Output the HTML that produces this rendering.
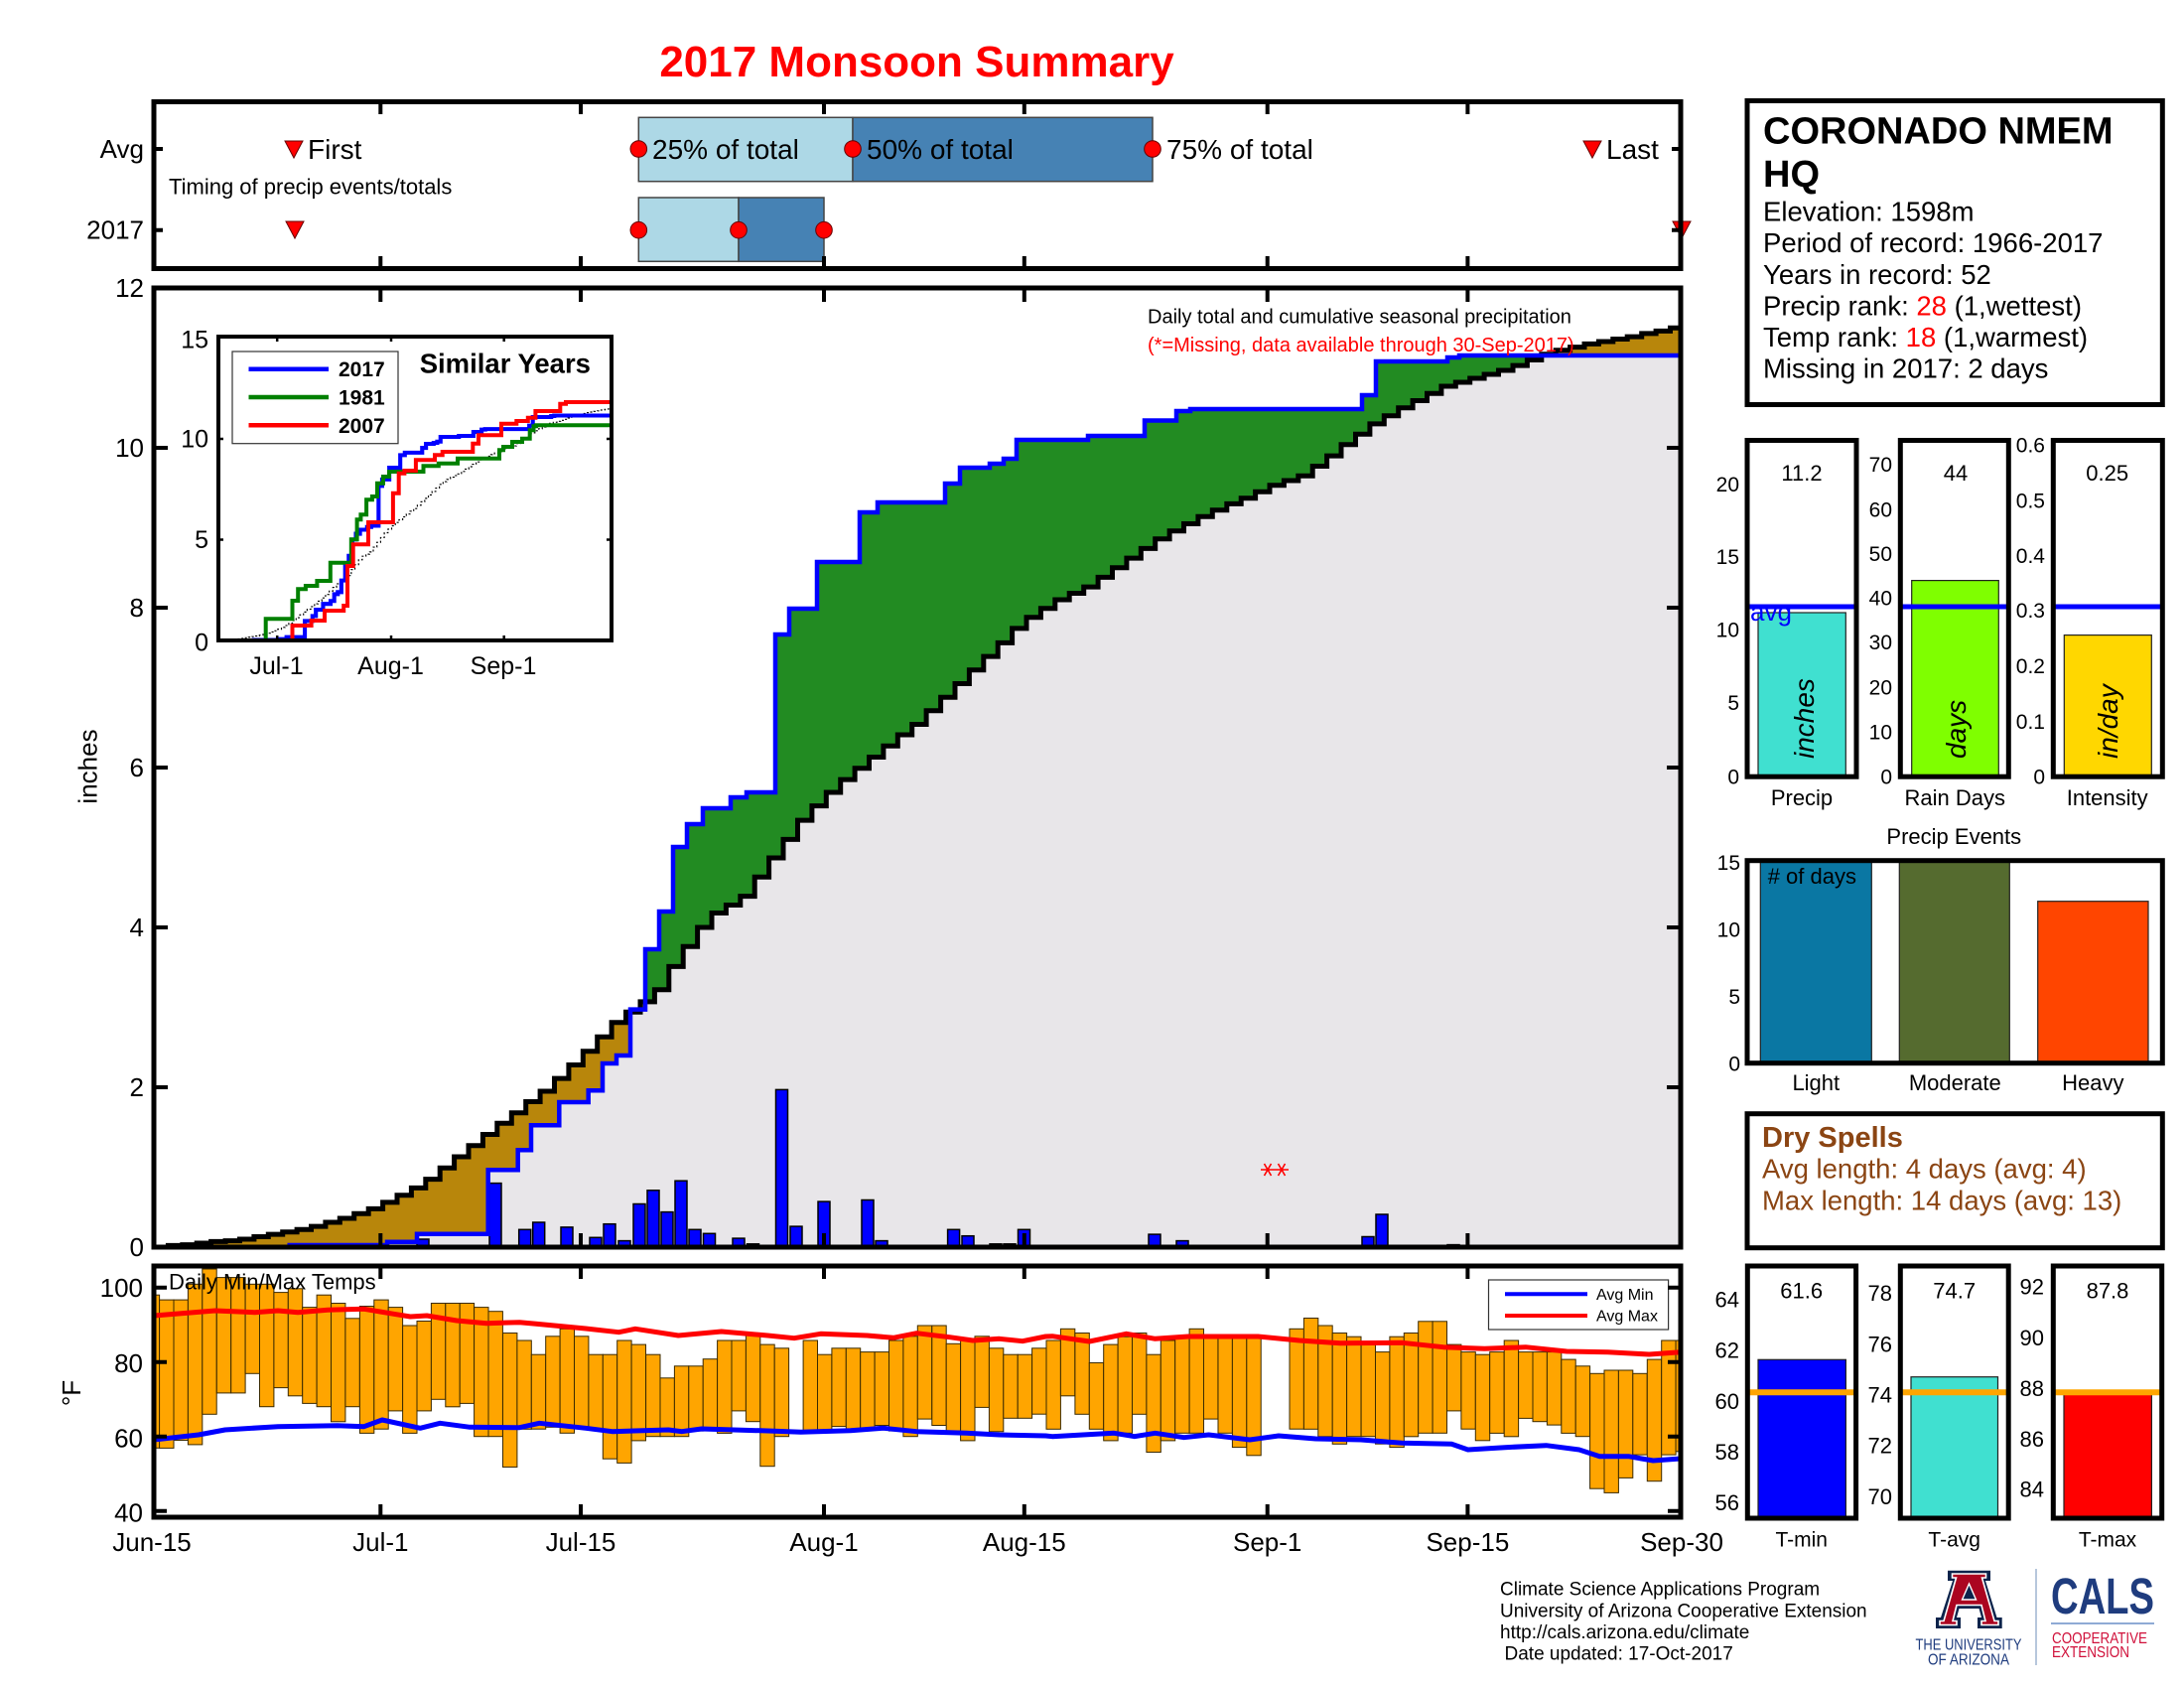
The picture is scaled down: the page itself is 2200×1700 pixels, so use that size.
<!DOCTYPE html>
<html><head><meta charset="utf-8"><title>2017 Monsoon Summary</title>
<style>
html,body{margin:0;padding:0;background:#fff;}
svg{display:block;font-family:"Liberation Sans",Arial,Helvetica,sans-serif;}
</style></head>
<body>
<svg width="2200" height="1700" viewBox="0 0 2200 1700" xmlns="http://www.w3.org/2000/svg">
<defs>
<clipPath id="mainClip"><rect x="155" y="290" width="1538" height="966"/></clipPath>
<clipPath id="blueClip"><path d="M155,1256 H291.7 V1254 H390 V1250.7 H420 V1242.7 H491.7 V1178.3 H521.7 V1158.3 H535 V1133.3 H563.3 V1110 H592.7 V1098.3 H607 V1071 H621 V1063 H635 V1016.6 H650 V956 H664 V918 H678 V853 H692 V830 H708 V814 H736 V803 H752 V798 H781 V639 H795 V613 H823 V566 H866 V516 H884 V506 H952 V487 H967 V471 H997 V467 H1011 V462 H1024 V443 H1096 V439 H1153 V423.5 H1185 V414 H1199 V412 H1372 V398 H1386 V364 H1458 V360 H1470 V358 H1693 V1256 Z"/></clipPath>
<clipPath id="tempClip"><rect x="155" y="1275" width="1538" height="253"/></clipPath>
<clipPath id="insetClip"><rect x="220" y="339" width="396" height="306"/></clipPath>
</defs>

<!-- Title -->
<text x="923.5" y="77" font-size="44" font-weight="bold" fill="#ff0000" text-anchor="middle">2017 Monsoon Summary</text>

<!-- ===== Timing panel ===== -->
<rect x="643.3" y="118.3" width="215.7" height="64.4" fill="#add8e6" stroke="#444" stroke-width="1.5"/>
<rect x="859" y="118.3" width="302" height="64.4" fill="#4682b4" stroke="#444" stroke-width="1.5"/>
<rect x="643.3" y="199" width="100.7" height="64.3" fill="#add8e6" stroke="#444" stroke-width="1.5"/>
<rect x="744" y="199" width="86" height="64.3" fill="#4682b4" stroke="#444" stroke-width="1.5"/>
<g fill="#ff0000" stroke="#600" stroke-width="1">
<circle cx="643.3" cy="150" r="8.3"/><circle cx="859" cy="150" r="8.3"/><circle cx="1161" cy="150" r="8.3"/>
<circle cx="643.3" cy="231.7" r="8.3"/><circle cx="744" cy="231.7" r="8.3"/><circle cx="830" cy="231.7" r="8.3"/>
<polygon points="287,142 305,142 296,159"/>
<polygon points="1595,142 1613,142 1604,159"/>
<polygon points="288,223 306,223 297,240"/>
<polygon points="1685,223 1703,223 1694,240"/>
</g>
<g font-size="28" fill="#000">
<text x="310" y="160">First</text>
<text x="657" y="160">25% of total</text>
<text x="873" y="160">50% of total</text>
<text x="1175" y="160">75% of total</text>
<text x="1618" y="160">Last</text>
</g>
<text x="170" y="195.7" font-size="22">Timing of precip events/totals</text>
<text x="145" y="159" font-size="26" text-anchor="end">Avg</text>
<text x="145" y="240.5" font-size="26" text-anchor="end">2017</text>
<rect x="155" y="102.5" width="1538" height="168" fill="none" stroke="#000" stroke-width="5"/>
<g stroke="#000" stroke-width="4">
<path d="M383.3,102 v13 M585,102 v13 M830,102 v13 M1031.8,102 v13 M1276.7,102 v13 M1478.4,102 v13"/>
<path d="M383.3,271 v-13 M585,271 v-13 M830,271 v-13 M1031.8,271 v-13 M1276.7,271 v-13 M1478.4,271 v-13"/>
<path d="M155,150 h9 M155,231.7 h9 M1693,150 h-9 M1693,231.7 h-9"/>
</g>

<!-- ===== Main precipitation plot ===== -->
<g clip-path="url(#mainClip)">
<!-- brown: under avg curve -->
<path fill="#b8860b" d="M155,1256 H169.4 V1254.4 H183.8 V1253.6 H198.2 V1252 H212.6 V1250.4 H227.1 V1249.6 H241.5 V1248 H255.9 V1245.5 H270.3 V1243.1 H284.7 V1240.7 H299.1 V1238.3 H313.5 V1235.1 H327.9 V1231 H342.3 V1227 H356.7 V1222.2 H371.2 V1217.4 H385.6 V1210.9 H400 V1203.7 H414.4 V1196.4 H428.8 V1187.6 H443.2 V1176.3 H457.6 V1165 H472 V1153.8 H486.4 V1142.5 H500.8 V1131.2 H515.3 V1120.8 H529.7 V1109.5 H544.1 V1099 H558.5 V1086.1 H572.9 V1072.5 H587.3 V1058.8 H601.7 V1044.3 H616.1 V1029.8 H630.5 V1019.3 H645 V1008.9 H659.4 V996.8 H673.8 V973.4 H688.2 V953.3 H702.6 V934 H717 V919.5 H731.4 V911.5 H745.8 V902.6 H760.2 V883.3 H774.6 V864 H789 V845.4 H803.5 V826.1 H817.9 V811.6 H832.3 V798 H846.7 V785.1 H861.1 V773.8 H875.5 V762.5 H889.9 V751.3 H904.3 V740 H918.7 V729.5 H933.1 V715.8 H947.6 V702.2 H962 V688.5 H976.4 V674.8 H990.8 V661.1 H1005.2 V647.4 H1019.6 V632.9 H1034 V621.7 H1048.4 V612.8 H1062.8 V604 H1077.2 V597.5 H1091.7 V591.1 H1106.1 V581.4 H1120.5 V571.8 H1134.9 V562.1 H1149.3 V552.4 H1163.7 V542.8 H1178.1 V534.7 H1192.5 V527.5 H1206.9 V520.2 H1221.3 V513.8 H1235.8 V507.4 H1250.2 V501.7 H1264.6 V495.3 H1279 V488.8 H1293.4 V484 H1307.8 V479.2 H1322.2 V469.5 H1336.6 V459.1 H1351 V447.8 H1365.5 V437.3 H1379.9 V426.9 H1394.3 V418.8 H1408.7 V410.8 H1423.1 V403.5 H1437.5 V396.3 H1451.9 V389 H1466.3 V385 H1480.7 V381 H1495.1 V377 H1509.5 V373 H1524 V368.1 H1538.4 V362.5 H1552.8 V356.8 H1567.2 V352.8 H1581.6 V349.6 H1596 V346.4 H1610.4 V344 H1624.8 V341.5 H1639.2 V339.1 H1653.7 V335.9 H1668.1 V333.4 H1682.5 V330.2 H1693 V1256 Z"/>
<!-- green: under 2017 curve -->
<path fill="#228b22" d="M155,1256 H291.7 V1254 H390 V1250.7 H420 V1242.7 H491.7 V1178.3 H521.7 V1158.3 H535 V1133.3 H563.3 V1110 H592.7 V1098.3 H607 V1071 H621 V1063 H635 V1016.6 H650 V956 H664 V918 H678 V853 H692 V830 H708 V814 H736 V803 H752 V798 H781 V639 H795 V613 H823 V566 H866 V516 H884 V506 H952 V487 H967 V471 H997 V467 H1011 V462 H1024 V443 H1096 V439 H1153 V423.5 H1185 V414 H1199 V412 H1372 V398 H1386 V364 H1458 V360 H1470 V358 H1693 V1256 Z"/>
<!-- gray: under both -->
<g clip-path="url(#blueClip)">
<path fill="#e8e6e9" d="M155,1256 H169.4 V1254.4 H183.8 V1253.6 H198.2 V1252 H212.6 V1250.4 H227.1 V1249.6 H241.5 V1248 H255.9 V1245.5 H270.3 V1243.1 H284.7 V1240.7 H299.1 V1238.3 H313.5 V1235.1 H327.9 V1231 H342.3 V1227 H356.7 V1222.2 H371.2 V1217.4 H385.6 V1210.9 H400 V1203.7 H414.4 V1196.4 H428.8 V1187.6 H443.2 V1176.3 H457.6 V1165 H472 V1153.8 H486.4 V1142.5 H500.8 V1131.2 H515.3 V1120.8 H529.7 V1109.5 H544.1 V1099 H558.5 V1086.1 H572.9 V1072.5 H587.3 V1058.8 H601.7 V1044.3 H616.1 V1029.8 H630.5 V1019.3 H645 V1008.9 H659.4 V996.8 H673.8 V973.4 H688.2 V953.3 H702.6 V934 H717 V919.5 H731.4 V911.5 H745.8 V902.6 H760.2 V883.3 H774.6 V864 H789 V845.4 H803.5 V826.1 H817.9 V811.6 H832.3 V798 H846.7 V785.1 H861.1 V773.8 H875.5 V762.5 H889.9 V751.3 H904.3 V740 H918.7 V729.5 H933.1 V715.8 H947.6 V702.2 H962 V688.5 H976.4 V674.8 H990.8 V661.1 H1005.2 V647.4 H1019.6 V632.9 H1034 V621.7 H1048.4 V612.8 H1062.8 V604 H1077.2 V597.5 H1091.7 V591.1 H1106.1 V581.4 H1120.5 V571.8 H1134.9 V562.1 H1149.3 V552.4 H1163.7 V542.8 H1178.1 V534.7 H1192.5 V527.5 H1206.9 V520.2 H1221.3 V513.8 H1235.8 V507.4 H1250.2 V501.7 H1264.6 V495.3 H1279 V488.8 H1293.4 V484 H1307.8 V479.2 H1322.2 V469.5 H1336.6 V459.1 H1351 V447.8 H1365.5 V437.3 H1379.9 V426.9 H1394.3 V418.8 H1408.7 V410.8 H1423.1 V403.5 H1437.5 V396.3 H1451.9 V389 H1466.3 V385 H1480.7 V381 H1495.1 V377 H1509.5 V373 H1524 V368.1 H1538.4 V362.5 H1552.8 V356.8 H1567.2 V352.8 H1581.6 V349.6 H1596 V346.4 H1610.4 V344 H1624.8 V341.5 H1639.2 V339.1 H1653.7 V335.9 H1668.1 V333.4 H1682.5 V330.2 H1693 V1256 Z"/>
</g>
<!-- daily bars -->
<g fill="#0000ff" stroke="#000" stroke-width="1.5">
<rect x="420" y="1248" width="12" height="8"/>
<rect x="493" y="1191.6" width="12" height="64.4"/>
<rect x="522.7" y="1238.3" width="12" height="17.7"/>
<rect x="536.7" y="1231" width="12" height="25"/>
<rect x="565" y="1235.9" width="12" height="20.1"/>
<rect x="594" y="1246.3" width="12" height="9.7"/>
<rect x="608" y="1232.7" width="12" height="23.3"/>
<rect x="623" y="1249.6" width="12" height="6.4"/>
<rect x="638" y="1212.5" width="12" height="43.5"/>
<rect x="652" y="1198.8" width="12" height="57.2"/>
<rect x="666" y="1220.6" width="12" height="35.4"/>
<rect x="680" y="1189.2" width="12" height="66.8"/>
<rect x="694" y="1238.3" width="12" height="17.7"/>
<rect x="708.5" y="1242.3" width="12" height="13.7"/>
<rect x="738" y="1247.1" width="12" height="8.9"/>
<rect x="752.5" y="1252.8" width="12" height="3.2"/>
<rect x="781.5" y="1097.4" width="12" height="158.6"/>
<rect x="796" y="1235.1" width="12" height="20.9"/>
<rect x="824" y="1210.1" width="12" height="45.9"/>
<rect x="868" y="1208.5" width="12" height="47.5"/>
<rect x="882" y="1249.6" width="12" height="6.4"/>
<rect x="954.6" y="1238.3" width="12" height="17.7"/>
<rect x="969" y="1244.7" width="12" height="11.3"/>
<rect x="997" y="1252.8" width="12" height="3.2"/>
<rect x="1011" y="1252.8" width="12" height="3.2"/>
<rect x="1025.5" y="1238.3" width="12" height="17.7"/>
<rect x="1157" y="1243.1" width="12" height="12.9"/>
<rect x="1185" y="1249.6" width="12" height="6.4"/>
<rect x="1199" y="1254.4" width="12" height="1.6"/>
<rect x="1372" y="1245.5" width="12" height="10.5"/>
<rect x="1386" y="1223" width="12" height="33"/>
<rect x="1458" y="1253.6" width="12" height="2.4"/>
</g>
<!-- avg curve -->
<path fill="none" stroke="#000" stroke-width="5" d="M155,1256 H169.4 V1254.4 H183.8 V1253.6 H198.2 V1252 H212.6 V1250.4 H227.1 V1249.6 H241.5 V1248 H255.9 V1245.5 H270.3 V1243.1 H284.7 V1240.7 H299.1 V1238.3 H313.5 V1235.1 H327.9 V1231 H342.3 V1227 H356.7 V1222.2 H371.2 V1217.4 H385.6 V1210.9 H400 V1203.7 H414.4 V1196.4 H428.8 V1187.6 H443.2 V1176.3 H457.6 V1165 H472 V1153.8 H486.4 V1142.5 H500.8 V1131.2 H515.3 V1120.8 H529.7 V1109.5 H544.1 V1099 H558.5 V1086.1 H572.9 V1072.5 H587.3 V1058.8 H601.7 V1044.3 H616.1 V1029.8 H630.5 V1019.3 H645 V1008.9 H659.4 V996.8 H673.8 V973.4 H688.2 V953.3 H702.6 V934 H717 V919.5 H731.4 V911.5 H745.8 V902.6 H760.2 V883.3 H774.6 V864 H789 V845.4 H803.5 V826.1 H817.9 V811.6 H832.3 V798 H846.7 V785.1 H861.1 V773.8 H875.5 V762.5 H889.9 V751.3 H904.3 V740 H918.7 V729.5 H933.1 V715.8 H947.6 V702.2 H962 V688.5 H976.4 V674.8 H990.8 V661.1 H1005.2 V647.4 H1019.6 V632.9 H1034 V621.7 H1048.4 V612.8 H1062.8 V604 H1077.2 V597.5 H1091.7 V591.1 H1106.1 V581.4 H1120.5 V571.8 H1134.9 V562.1 H1149.3 V552.4 H1163.7 V542.8 H1178.1 V534.7 H1192.5 V527.5 H1206.9 V520.2 H1221.3 V513.8 H1235.8 V507.4 H1250.2 V501.7 H1264.6 V495.3 H1279 V488.8 H1293.4 V484 H1307.8 V479.2 H1322.2 V469.5 H1336.6 V459.1 H1351 V447.8 H1365.5 V437.3 H1379.9 V426.9 H1394.3 V418.8 H1408.7 V410.8 H1423.1 V403.5 H1437.5 V396.3 H1451.9 V389 H1466.3 V385 H1480.7 V381 H1495.1 V377 H1509.5 V373 H1524 V368.1 H1538.4 V362.5 H1552.8 V356.8 H1567.2 V352.8 H1581.6 V349.6 H1596 V346.4 H1610.4 V344 H1624.8 V341.5 H1639.2 V339.1 H1653.7 V335.9 H1668.1 V333.4 H1682.5 V330.2 H1693"/>
<!-- 2017 curve -->
<path fill="none" stroke="#0000ff" stroke-width="4.5" d="M155,1256 H291.7 V1254 H390 V1250.7 H420 V1242.7 H491.7 V1178.3 H521.7 V1158.3 H535 V1133.3 H563.3 V1110 H592.7 V1098.3 H607 V1071 H621 V1063 H635 V1016.6 H650 V956 H664 V918 H678 V853 H692 V830 H708 V814 H736 V803 H752 V798 H781 V639 H795 V613 H823 V566 H866 V516 H884 V506 H952 V487 H967 V471 H997 V467 H1011 V462 H1024 V443 H1096 V439 H1153 V423.5 H1185 V414 H1199 V412 H1372 V398 H1386 V364 H1458 V360 H1470 V358 H1693"/>
</g>
<!-- missing asterisks -->
<g stroke="#ff0000" stroke-width="1.6">
<path d="M1270,1178 h14 M1273.5,1172 l7,12 M1280.5,1172 l-7,12"/>
<path d="M1284,1178 h14 M1287.5,1172 l7,12 M1294.5,1172 l-7,12"/>
</g>
<text x="1156" y="325.3" font-size="20">Daily total and cumulative seasonal precipitation</text>
<text x="1156" y="354" font-size="20" fill="#ff0000">(*=Missing, data available through 30-Sep-2017)</text>

<rect x="155" y="290" width="1538" height="966" fill="none" stroke="#000" stroke-width="5"/>
<g stroke="#000" stroke-width="4">
<path d="M383.3,290 v14 M585,290 v14 M830,290 v14 M1031.8,290 v14 M1276.7,290 v14 M1478.4,290 v14"/>
<path d="M383.3,1256 v-14 M585,1256 v-14 M830,1256 v-14 M1031.8,1256 v-14 M1276.7,1256 v-14 M1478.4,1256 v-14"/>
<path d="M155,451 h14 M155,612 h14 M155,773 h14 M155,934 h14 M155,1095 h14"/>
<path d="M1693,451 h-14 M1693,612 h-14 M1693,773 h-14 M1693,934 h-14 M1693,1095 h-14"/>
</g>
<g font-size="26" text-anchor="end">
<text x="145" y="299">12</text>
<text x="145" y="460">10</text>
<text x="145" y="621">8</text>
<text x="145" y="782">6</text>
<text x="145" y="943">4</text>
<text x="145" y="1104">2</text>
<text x="145" y="1265">0</text>
</g>
<text transform="translate(97.5,772) rotate(-90)" font-size="26" text-anchor="middle">inches</text>

<!-- ===== Inset: Similar Years ===== -->
<rect x="220" y="339" width="396" height="306" fill="#fff"/>
<g clip-path="url(#insetClip)">
<g transform="translate(180.79,328.24) scale(0.2568,0.2522)" fill="none">
<path stroke="#000" stroke-width="4.5" stroke-dasharray="8 8" d="M155,1256 H169.4 V1254.4 H183.8 V1253.6 H198.2 V1252 H212.6 V1250.4 H227.1 V1249.6 H241.5 V1248 H255.9 V1245.5 H270.3 V1243.1 H284.7 V1240.7 H299.1 V1238.3 H313.5 V1235.1 H327.9 V1231 H342.3 V1227 H356.7 V1222.2 H371.2 V1217.4 H385.6 V1210.9 H400 V1203.7 H414.4 V1196.4 H428.8 V1187.6 H443.2 V1176.3 H457.6 V1165 H472 V1153.8 H486.4 V1142.5 H500.8 V1131.2 H515.3 V1120.8 H529.7 V1109.5 H544.1 V1099 H558.5 V1086.1 H572.9 V1072.5 H587.3 V1058.8 H601.7 V1044.3 H616.1 V1029.8 H630.5 V1019.3 H645 V1008.9 H659.4 V996.8 H673.8 V973.4 H688.2 V953.3 H702.6 V934 H717 V919.5 H731.4 V911.5 H745.8 V902.6 H760.2 V883.3 H774.6 V864 H789 V845.4 H803.5 V826.1 H817.9 V811.6 H832.3 V798 H846.7 V785.1 H861.1 V773.8 H875.5 V762.5 H889.9 V751.3 H904.3 V740 H918.7 V729.5 H933.1 V715.8 H947.6 V702.2 H962 V688.5 H976.4 V674.8 H990.8 V661.1 H1005.2 V647.4 H1019.6 V632.9 H1034 V621.7 H1048.4 V612.8 H1062.8 V604 H1077.2 V597.5 H1091.7 V591.1 H1106.1 V581.4 H1120.5 V571.8 H1134.9 V562.1 H1149.3 V552.4 H1163.7 V542.8 H1178.1 V534.7 H1192.5 V527.5 H1206.9 V520.2 H1221.3 V513.8 H1235.8 V507.4 H1250.2 V501.7 H1264.6 V495.3 H1279 V488.8 H1293.4 V484 H1307.8 V479.2 H1322.2 V469.5 H1336.6 V459.1 H1351 V447.8 H1365.5 V437.3 H1379.9 V426.9 H1394.3 V418.8 H1408.7 V410.8 H1423.1 V403.5 H1437.5 V396.3 H1451.9 V389 H1466.3 V385 H1480.7 V381 H1495.1 V377 H1509.5 V373 H1524 V368.1 H1538.4 V362.5 H1552.8 V356.8 H1567.2 V352.8 H1581.6 V349.6 H1596 V346.4 H1610.4 V344 H1624.8 V341.5 H1639.2 V339.1 H1653.7 V335.9 H1668.1 V333.4 H1682.5 V330.2 H1693"/>
<path stroke="#0000ff" stroke-width="16" d="M155,1256 H291.7 V1254 H390 V1250.7 H420 V1242.7 H491.7 V1178.3 H521.7 V1158.3 H535 V1133.3 H563.3 V1110 H592.7 V1098.3 H607 V1071 H621 V1063 H635 V1016.6 H650 V956 H664 V918 H678 V853 H692 V830 H708 V814 H736 V803 H752 V798 H781 V639 H795 V613 H823 V566 H866 V516 H884 V506 H952 V487 H967 V471 H997 V467 H1011 V462 H1024 V443 H1096 V439 H1153 V423.5 H1185 V414 H1199 V412 H1372 V398 H1386 V364 H1458 V360 H1470 V358 H1693"/>
</g>
<path fill="none" stroke="#008000" stroke-width="4" d="M220,645 H267.7 V623.3 H294.5 V605 H300.2 V593.3 H307.9 V590 H319.4 V585 H332.8 V566.7 H353.8 V543.3 H359.6 V523.3 H363.4 V518.3 H369.1 V503.3 H374.9 V500 H380 V486.7 H386 V480 H392 V475 H426.5 V469.3 H441.8 V466.7 H461 V461.7 H503 V453.3 H507 V450 H516 V445 H526 V441.7 H533.7 V433.3 H537.5 V429.3 H540 V428.3 H616"/>
<path fill="none" stroke="#ff0000" stroke-width="4" d="M220,645 H294.5 V630 H313.6 V625 H327 V615 H346.2 V610 H350 V570 H355.7 V548.3 H371 V526 H395.9 V496.7 H401.7 V476.7 H407.4 V474 H418.9 V463.3 H438 V458.3 H445.7 V455 H476.3 V446.7 H482 V438.3 H505 V426.7 H520.3 V424 H531.8 V420.7 H539.4 V414 H564.3 V406.7 H570 V405 H616"/>
</g>
<rect x="234" y="354" width="167" height="92.7" fill="#fff" stroke="#333" stroke-width="1.2"/>
<path d="M250.5,371.7 H331" stroke="#0000ff" stroke-width="4.5"/>
<path d="M250.5,400 H331" stroke="#008000" stroke-width="4.5"/>
<path d="M250.5,428.3 H331" stroke="#ff0000" stroke-width="4.5"/>
<g font-size="21" font-weight="bold">
<text x="341" y="379.2">2017</text>
<text x="341" y="407.5">1981</text>
<text x="341" y="435.8">2007</text>
</g>
<text x="422.7" y="375.7" font-size="27.5" font-weight="bold">Similar Years</text>
<rect x="220" y="339" width="396" height="306" fill="none" stroke="#000" stroke-width="4"/>
<g stroke="#000" stroke-width="2.5">
<path d="M279.2,645 v-5 M394,645 v-5 M507.7,645 v-5 M279.2,339 v5 M394,339 v5 M507.7,339 v5"/>
<path d="M220,543.5 h5 M220,442 h5 M616,543.5 h-5 M616,442 h-5"/>
</g>
<g font-size="25" text-anchor="end">
<text x="210" y="655.5">0</text>
<text x="210" y="552">5</text>
<text x="210" y="450.5">10</text>
<text x="210" y="350.5">15</text>
</g>
<g font-size="25" text-anchor="middle">
<text x="278.5" y="679">Jul-1</text>
<text x="393.5" y="679">Aug-1</text>
<text x="507" y="679">Sep-1</text>
</g>

<!-- ===== Temperature panel ===== -->
<g clip-path="url(#tempClip)">
<g fill="#ffa500" stroke="#3a2a00" stroke-width="1">
<rect x="146.2" y="1304.2" width="14.41" height="154.1"/>
<rect x="160.6" y="1309.1" width="14.41" height="149.3"/>
<rect x="175.0" y="1309.1" width="14.41" height="141.4"/>
<rect x="189.4" y="1293.3" width="14.41" height="161.6"/>
<rect x="203.8" y="1278" width="14.41" height="146.3"/>
<rect x="218.3" y="1286.6" width="14.41" height="116.3"/>
<rect x="232.7" y="1286.6" width="14.41" height="116.3"/>
<rect x="247.1" y="1293.3" width="14.41" height="90"/>
<rect x="261.5" y="1293.3" width="14.41" height="123.4"/>
<rect x="275.9" y="1301.6" width="14.41" height="96"/>
<rect x="290.3" y="1297.8" width="14.41" height="108"/>
<rect x="304.7" y="1316.6" width="14.41" height="96.8"/>
<rect x="319.1" y="1304.2" width="14.41" height="112.5"/>
<rect x="333.5" y="1312.5" width="14.41" height="119.3"/>
<rect x="347.9" y="1327.8" width="14.41" height="88.9"/>
<rect x="362.4" y="1315.5" width="14.41" height="127.9"/>
<rect x="376.8" y="1309.1" width="14.41" height="130.1"/>
<rect x="391.2" y="1316.6" width="14.41" height="104.3"/>
<rect x="405.6" y="1335" width="14.41" height="108.4"/>
<rect x="420.0" y="1330.5" width="14.41" height="90.4"/>
<rect x="434.4" y="1312.5" width="14.41" height="96.8"/>
<rect x="448.8" y="1312.5" width="14.41" height="104.3"/>
<rect x="463.2" y="1312.5" width="14.41" height="100.9"/>
<rect x="477.6" y="1316.6" width="14.41" height="130.1"/>
<rect x="492.0" y="1320.7" width="14.41" height="126"/>
<rect x="506.5" y="1342.5" width="14.41" height="135"/>
<rect x="520.9" y="1350" width="14.41" height="89.3"/>
<rect x="535.3" y="1364.2" width="14.41" height="75"/>
<rect x="549.7" y="1345.8" width="14.41" height="91.5"/>
<rect x="564.1" y="1338.3" width="14.41" height="105"/>
<rect x="578.5" y="1345.8" width="14.41" height="91.5"/>
<rect x="592.9" y="1364.2" width="14.41" height="75"/>
<rect x="607.3" y="1364.2" width="14.41" height="105"/>
<rect x="621.7" y="1350" width="14.41" height="123.4"/>
<rect x="636.1" y="1354.1" width="14.41" height="96.8"/>
<rect x="650.6" y="1364.2" width="14.41" height="82.5"/>
<rect x="665.0" y="1387.8" width="14.41" height="58.9"/>
<rect x="679.4" y="1375.8" width="14.41" height="70.9"/>
<rect x="693.8" y="1375.8" width="14.41" height="65.3"/>
<rect x="708.2" y="1368.7" width="14.41" height="70.5"/>
<rect x="722.6" y="1350" width="14.41" height="93.4"/>
<rect x="737.0" y="1350" width="14.41" height="70.9"/>
<rect x="751.4" y="1342.8" width="14.41" height="88.9"/>
<rect x="765.8" y="1354.1" width="14.41" height="122.6"/>
<rect x="780.2" y="1357.8" width="14.41" height="88.9"/>
<rect x="809.1" y="1350" width="14.41" height="91.1"/>
<rect x="823.5" y="1364.2" width="14.41" height="76.9"/>
<rect x="837.9" y="1357.8" width="14.41" height="78.8"/>
<rect x="852.3" y="1357.8" width="14.41" height="81.4"/>
<rect x="866.7" y="1361.6" width="14.41" height="77.6"/>
<rect x="881.1" y="1361.6" width="14.41" height="73.9"/>
<rect x="895.5" y="1350" width="14.41" height="91.1"/>
<rect x="909.9" y="1345.8" width="14.41" height="100.9"/>
<rect x="924.3" y="1335" width="14.41" height="94.1"/>
<rect x="938.8" y="1335" width="14.41" height="100.5"/>
<rect x="953.2" y="1353.3" width="14.41" height="87.8"/>
<rect x="967.6" y="1350" width="14.41" height="100.9"/>
<rect x="982.0" y="1345.8" width="14.41" height="71.6"/>
<rect x="996.4" y="1357.8" width="14.41" height="84"/>
<rect x="1010.8" y="1364.2" width="14.41" height="64.1"/>
<rect x="1025.2" y="1364.2" width="14.41" height="64.1"/>
<rect x="1039.6" y="1357.8" width="14.41" height="66.4"/>
<rect x="1054.0" y="1350" width="14.41" height="89.3"/>
<rect x="1068.4" y="1338.3" width="14.41" height="67.5"/>
<rect x="1082.9" y="1342.5" width="14.41" height="81.8"/>
<rect x="1097.3" y="1372.5" width="14.41" height="66.8"/>
<rect x="1111.7" y="1354.1" width="14.41" height="96.8"/>
<rect x="1126.1" y="1346.2" width="14.41" height="97.1"/>
<rect x="1140.5" y="1342.5" width="14.41" height="81.8"/>
<rect x="1154.9" y="1364.2" width="14.41" height="98.3"/>
<rect x="1169.3" y="1350" width="14.41" height="100.9"/>
<rect x="1183.7" y="1346.2" width="14.41" height="97.1"/>
<rect x="1198.1" y="1338.3" width="14.41" height="105"/>
<rect x="1212.5" y="1346.2" width="14.41" height="82.9"/>
<rect x="1227.0" y="1346.2" width="14.41" height="97.1"/>
<rect x="1241.4" y="1346.2" width="14.41" height="111.4"/>
<rect x="1255.8" y="1346.2" width="14.41" height="119.6"/>
<rect x="1299.0" y="1338.3" width="14.41" height="100.9"/>
<rect x="1313.4" y="1327.5" width="14.41" height="111.8"/>
<rect x="1327.8" y="1335" width="14.41" height="111.8"/>
<rect x="1342.2" y="1342.5" width="14.41" height="111.8"/>
<rect x="1356.6" y="1346.2" width="14.41" height="100.5"/>
<rect x="1371.1" y="1354.1" width="14.41" height="92.6"/>
<rect x="1385.5" y="1361.6" width="14.41" height="92.6"/>
<rect x="1399.9" y="1346.2" width="14.41" height="111.4"/>
<rect x="1414.3" y="1342.5" width="14.41" height="104.3"/>
<rect x="1428.7" y="1330.8" width="14.41" height="112.5"/>
<rect x="1443.1" y="1330.8" width="14.41" height="112.5"/>
<rect x="1457.5" y="1354.1" width="14.41" height="66.8"/>
<rect x="1471.9" y="1361.6" width="14.41" height="77.6"/>
<rect x="1486.3" y="1364.2" width="14.41" height="86.6"/>
<rect x="1500.7" y="1361.6" width="14.41" height="81.8"/>
<rect x="1515.2" y="1350" width="14.41" height="96.8"/>
<rect x="1529.6" y="1361.6" width="14.41" height="66.8"/>
<rect x="1544.0" y="1361.6" width="14.41" height="70.1"/>
<rect x="1558.4" y="1361.6" width="14.41" height="73.5"/>
<rect x="1572.8" y="1369.1" width="14.41" height="74.3"/>
<rect x="1587.2" y="1375.8" width="14.41" height="70.9"/>
<rect x="1601.6" y="1383.3" width="14.41" height="115.9"/>
<rect x="1616.0" y="1380" width="14.41" height="123.4"/>
<rect x="1630.4" y="1380" width="14.41" height="108.4"/>
<rect x="1644.8" y="1383.3" width="14.41" height="81.8"/>
<rect x="1659.3" y="1369.1" width="14.41" height="122.6"/>
<rect x="1673.7" y="1350" width="14.41" height="115.1"/>
<rect x="1688.1" y="1350" width="14.41" height="111.8"/>
</g>
<polyline fill="none" stroke="#ff0000" stroke-width="5" stroke-linejoin="round" points="155,1325 216.7,1320 256.7,1321.7 280,1320 300,1321.7 330,1319.3 366.7,1318.3 396.7,1323.3 413.3,1326 430,1325 460,1330 490,1332.7 523.3,1331.7 540,1333.3 590,1338 623.3,1341.7 640,1338.3 683.3,1345 726.7,1341 773.3,1345 800,1347.7 826.7,1343.3 873.3,1345 900,1347.3 923.3,1342.7 956.7,1346.7 980,1350 1006.7,1348.3 1030,1350.7 1053.3,1346 1060,1345.7 1097.3,1351 1134.6,1343.3 1163.6,1348.3 1196.8,1346 1267.3,1346 1308.8,1350 1350.2,1352.7 1412.4,1352.3 1453.9,1356.7 1495.3,1358.3 1536.8,1356.7 1578.2,1361 1619.7,1361.7 1661.2,1364 1693,1361.7"/>
<polyline fill="none" stroke="#0000ff" stroke-width="5" stroke-linejoin="round" points="155,1450 200,1445 226.7,1440 280,1436.7 340,1435.7 366.7,1436.7 385,1430 423.3,1438.3 443.3,1433.3 473.3,1437.3 523.3,1437.7 543.3,1433.3 590,1438.3 616.7,1441.7 673.3,1440 686.7,1441.7 706.7,1439 773.3,1441 806.7,1442.3 856.7,1440.7 890,1438.3 923.3,1441.7 973.3,1443.3 1006.7,1445 1053.3,1446 1060,1446.7 1122.2,1443.3 1142.9,1446.7 1163.6,1443.3 1192.7,1447.7 1217.5,1445 1259,1450 1288,1446 1325.3,1449 1370.9,1450 1412.4,1453.3 1462.2,1454.3 1478.7,1460 1516,1457.7 1557.5,1455.7 1590.7,1460 1611.4,1466.7 1640.4,1466.7 1665.3,1471 1693,1469"/>
</g>
<text x="170" y="1298.4" font-size="22">Daily Min/Max Temps</text>
<rect x="1499.5" y="1289" width="181.1" height="50" fill="#fff" stroke="#333" stroke-width="1.2"/>
<path d="M1516,1303.3 H1599" stroke="#0000ff" stroke-width="4"/>
<path d="M1516,1325 H1599" stroke="#ff0000" stroke-width="4"/>
<text x="1608" y="1309" font-size="16">Avg Min</text>
<text x="1608" y="1330.6" font-size="16">Avg Max</text>
<rect x="155" y="1275" width="1538" height="253" fill="none" stroke="#000" stroke-width="5"/>
<g stroke="#000" stroke-width="4">
<path d="M383.3,1275 v13 M585,1275 v13 M830,1275 v13 M1031.8,1275 v13 M1276.7,1275 v13 M1478.4,1275 v13"/>
<path d="M383.3,1528 v-13 M585,1528 v-13 M830,1528 v-13 M1031.8,1528 v-13 M1276.7,1528 v-13 M1478.4,1528 v-13"/>
<path d="M155,1296.7 h13 M155,1371.7 h13 M155,1446.7 h13 M155,1521.7 h13"/>
<path d="M1693,1296.7 h-13 M1693,1371.7 h-13 M1693,1446.7 h-13 M1693,1521.7 h-13"/>
</g>
<g font-size="26" text-anchor="end">
<text x="144" y="1305.8">100</text>
<text x="144" y="1381.8">80</text>
<text x="144" y="1457.4">60</text>
<text x="144" y="1532.4">40</text>
</g>
<text transform="translate(81,1403) rotate(-90)" font-size="26" text-anchor="middle">°F</text>
<g font-size="26" text-anchor="middle">
<text x="153" y="1562">Jun-15</text>
<text x="383.3" y="1562">Jul-1</text>
<text x="585" y="1562">Jul-15</text>
<text x="830" y="1562">Aug-1</text>
<text x="1031.8" y="1562">Aug-15</text>
<text x="1276.7" y="1562">Sep-1</text>
<text x="1478.4" y="1562">Sep-15</text>
<text x="1694" y="1562">Sep-30</text>
</g>

<!-- ===== Info box ===== -->
<rect x="1760" y="101.5" width="418.3" height="306" fill="none" stroke="#000" stroke-width="5"/>
<text x="1776" y="144.6" font-size="38" font-weight="bold">CORONADO NMEM</text>
<text x="1776" y="188" font-size="38" font-weight="bold">HQ</text>
<g font-size="27.5">
<text x="1776" y="222.6">Elevation: 1598m</text>
<text x="1776" y="254.2">Period of record: 1966-2017</text>
<text x="1776" y="285.8">Years in record: 52</text>
<text x="1776" y="317.4">Precip rank: <tspan fill="#ff0000">28</tspan> (1,wettest)</text>
<text x="1776" y="349">Temp rank: <tspan fill="#ff0000">18</tspan> (1,warmest)</text>
<text x="1776" y="380.6">Missing in 2017: 2 days</text>
</g>

<!-- ===== Precip / Rain days / Intensity ===== -->
<rect x="1771" y="617" width="88.3" height="165.2" fill="#40e0d0" stroke="#222" stroke-width="1.2"/>
<rect x="1925.7" y="584.6" width="87.6" height="197.6" fill="#7fff00" stroke="#222" stroke-width="1.2"/>
<rect x="2079.3" y="639.6" width="88" height="142.6" fill="#ffd700" stroke="#222" stroke-width="1.2"/>
<g stroke="#0000ff" stroke-width="5">
<path d="M1760,611 H1870 M1914.3,611 H2023.3 M2068.3,611 H2178.3"/>
</g>
<text x="1763" y="625" font-size="26" fill="#0000ff">avg</text>
<g font-size="28" font-style="italic" text-anchor="start">
<text transform="translate(1827,764) rotate(-90)">inches</text>
<text transform="translate(1980,764) rotate(-90)">days</text>
<text transform="translate(2133,764) rotate(-90)">in/day</text>
</g>
<g fill="none" stroke="#000" stroke-width="5">
<rect x="1760" y="443.5" width="110" height="338.7"/>
<rect x="1914.3" y="443.5" width="109" height="338.7"/>
<rect x="2068.3" y="443.5" width="110" height="338.7"/>
</g>
<g font-size="22" text-anchor="middle">
<text x="1815" y="484">11.2</text>
<text x="1970" y="484">44</text>
<text x="2122.7" y="484">0.25</text>
<text x="1815" y="811">Precip</text>
<text x="1969.3" y="811">Rain Days</text>
<text x="2122.7" y="811">Intensity</text>
</g>
<g font-size="21" text-anchor="end">
<text x="1752" y="495">20</text><text x="1752" y="568">15</text><text x="1752" y="641.3">10</text><text x="1752" y="715">5</text><text x="1752" y="789.6">0</text>
<text x="1906" y="474.8">70</text><text x="1906" y="520.3">60</text><text x="1906" y="564.8">50</text><text x="1906" y="609.7">40</text><text x="1906" y="654.2">30</text><text x="1906" y="699.6">20</text><text x="1906" y="744.6">10</text><text x="1906" y="789.6">0</text>
<text x="2060" y="455.7">0.6</text><text x="2060" y="511.6">0.5</text><text x="2060" y="567.1">0.4</text><text x="2060" y="622.2">0.3</text><text x="2060" y="678.1">0.2</text><text x="2060" y="734.1">0.1</text><text x="2060" y="789.6">0</text>
</g>

<!-- ===== Precip Events ===== -->
<text x="1968.3" y="850" font-size="22" text-anchor="middle">Precip Events</text>
<rect x="1773.3" y="866.7" width="112" height="204" fill="#0a77a3" stroke="#222" stroke-width="1.2"/>
<rect x="1913.3" y="866.7" width="111" height="204" fill="#556b2f" stroke="#222" stroke-width="1.2"/>
<rect x="2052.7" y="907.7" width="111.3" height="163" fill="#ff4500" stroke="#222" stroke-width="1.2"/>
<text x="1780.7" y="890" font-size="22">#&#160;of days</text>
<rect x="1760" y="866.7" width="418.3" height="204" fill="none" stroke="#000" stroke-width="5"/>
<g font-size="21" text-anchor="end">
<text x="1753" y="875.9">15</text><text x="1753" y="943.6">10</text><text x="1753" y="1011">5</text><text x="1753" y="1078.3">0</text>
</g>
<g font-size="22" text-anchor="middle">
<text x="1829.3" y="1098">Light</text>
<text x="1969.3" y="1098">Moderate</text>
<text x="2108.3" y="1098">Heavy</text>
</g>

<!-- ===== Dry spells ===== -->
<rect x="1760" y="1121.7" width="418.3" height="135" fill="none" stroke="#000" stroke-width="5"/>
<text x="1775" y="1155" font-size="29" font-weight="bold" fill="#8b4513">Dry Spells</text>
<text x="1775" y="1186.7" font-size="27.5" fill="#8b4513">Avg length: 4 days (avg: 4)</text>
<text x="1775" y="1218.3" font-size="27.5" fill="#8b4513">Max length: 14 days (avg: 13)</text>

<!-- ===== T-min / T-avg / T-max ===== -->
<rect x="1771" y="1369.3" width="88.4" height="158.7" fill="#0000ff" stroke="#222" stroke-width="1.2"/>
<rect x="1925" y="1386.7" width="87.5" height="141.3" fill="#40e0d0" stroke="#222" stroke-width="1.2"/>
<rect x="2079" y="1404" width="88.4" height="124" fill="#ff0000" stroke="#222" stroke-width="1.2"/>
<g stroke="#ffa500" stroke-width="6">
<path d="M1760.3,1402.3 H1869.6 M1914.3,1402.3 H2023.2 M2068.3,1402.3 H2177.7"/>
</g>
<g fill="none" stroke="#000" stroke-width="5">
<rect x="1760.3" y="1275" width="109.3" height="254"/>
<rect x="1914.3" y="1275" width="108.9" height="254"/>
<rect x="2068.3" y="1275" width="109.4" height="254"/>
</g>
<g font-size="22" text-anchor="middle">
<text x="1814.7" y="1307.7">61.6</text>
<text x="1968.7" y="1307.7">74.7</text>
<text x="2123" y="1307.7">87.8</text>
</g>
<g font-size="21" text-anchor="middle">
<text x="1814.7" y="1557.7">T-min</text>
<text x="1968.7" y="1557.7">T-avg</text>
<text x="2123" y="1557.7">T-max</text>
</g>
<g font-size="22" text-anchor="end">
<text x="1752" y="1316.5">64</text><text x="1752" y="1367.5">62</text><text x="1752" y="1419.2">60</text><text x="1752" y="1469.8">58</text><text x="1752" y="1520.8">56</text>
<text x="1906" y="1310.2">78</text><text x="1906" y="1361.5">76</text><text x="1906" y="1412.5">74</text><text x="1906" y="1463.5">72</text><text x="1906" y="1514.8">70</text>
<text x="2059" y="1303.5">92</text><text x="2059" y="1354.8">90</text><text x="2059" y="1405.8">88</text><text x="2059" y="1456.8">86</text><text x="2059" y="1507.5">84</text>
</g>

<!-- ===== Footer ===== -->
<g font-size="19">
<text x="1511" y="1606.7">Climate Science Applications Program</text>
<text x="1511" y="1628.4">University of Arizona Cooperative Extension</text>
<text x="1511" y="1650">http://cals.arizona.edu/climate</text>
<text x="1515.5" y="1671.7">Date updated: 17-Oct-2017</text>
</g>
<!-- UA logo -->
<polygon fill="#0c234b" points="1962,1581.7 2005,1581.7 2005,1592 2000,1592 2011.5,1629 2016.7,1629 2016.7,1640 1992,1640 1992,1629 1996,1629 1993.5,1620 1973.5,1620 1971,1629 1975,1629 1975,1640 1950,1640 1950,1629 1955,1629 1967,1592 1962,1592"/>
<polygon fill="#ab0520" stroke="#fff" stroke-width="1.6" points="1966.5,1585 2000.5,1585 2000.5,1589 1996.5,1589 2009,1632.5 2013,1632.5 2013,1636.5 1996,1636.5 1996,1632.5 2000,1632.5 1996,1616.5 1971,1616.5 1967,1632.5 1971,1632.5 1971,1636.5 1954,1636.5 1954,1632.5 1958,1632.5 1970.5,1589 1966.5,1589"/>
<polygon fill="#0c234b" stroke="#fff" stroke-width="1.4" points="1983.5,1595 1990.5,1611 1976.5,1611"/>
<text x="1929.5" y="1661.7" font-size="16" fill="#1f3c7e" textLength="107" lengthAdjust="spacingAndGlyphs">THE UNIVERSITY</text>
<text x="1942" y="1676.7" font-size="16" fill="#1f3c7e" textLength="82" lengthAdjust="spacingAndGlyphs">OF ARIZONA</text>
<path d="M2051,1580 V1677" stroke="#9fb4d0" stroke-width="1.5"/>
<text x="2066" y="1625" font-size="51" font-weight="bold" fill="#1f3c7e" textLength="104" lengthAdjust="spacingAndGlyphs">CALS</text>
<path d="M2066,1635 H2170" stroke="#6a8fc7" stroke-width="1.5"/>
<text x="2067" y="1655" font-size="16" fill="#d0103a" textLength="96" lengthAdjust="spacingAndGlyphs">COOPERATIVE</text>
<text x="2067" y="1669" font-size="16" fill="#d0103a" textLength="78" lengthAdjust="spacingAndGlyphs">EXTENSION</text>
</svg>
</body></html>
